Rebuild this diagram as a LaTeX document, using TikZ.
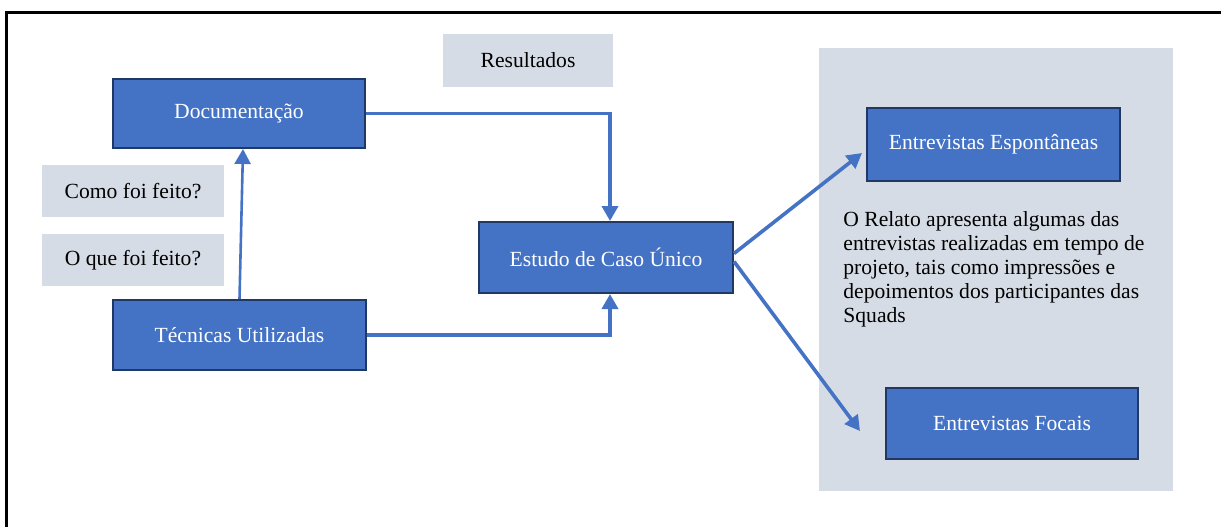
\documentclass[tikz,border=0pt]{standalone}
\usepackage{fontspec}
\setmainfont{Liberation Serif}
\usetikzlibrary{arrows.meta}

\definecolor{boxblue}{HTML}{4472C4}
\definecolor{boxedge}{HTML}{1F3864}
\definecolor{lightbox}{HTML}{D6DCE5}

\begin{document}
\begin{tikzpicture}[x=0.5pt, y=-0.5pt,
    every node/.style={font=\fontsize{10.8}{12}\selectfont, inner sep=0pt},
    bluebox/.style={draw=boxedge, line width=1pt, fill=boxblue, text=white},
    greybox/.style={fill=lightbox},
    link/.style={draw=boxblue, line width=1.8pt, -{Triangle[width=8pt,length=7.5pt]}}]

   \useasboundingbox (0,0) rectangle (1221,527);
   \draw[line width=1.5pt] (1221,12) -- (6,12) -- (6,527);

   \fill[lightbox] (819,48) rectangle (1173,491);

   \node[greybox, minimum width=85pt, minimum height=26.5pt] (res) at (528,60.5) {Resultados};
   \node[greybox, minimum width=91pt, minimum height=26pt] (como) at (133,191) {Como foi feito?};
   \node[greybox, minimum width=91pt, minimum height=26pt] (oque) at (133,260) {O que foi feito?};

   \node[bluebox, minimum width=126pt, minimum height=34.5pt] (doc) at (239,113.5) {Documentação};
   \node[bluebox, minimum width=126.5pt, minimum height=35pt] (tec) at (239.5,335) {Técnicas Utilizadas};
   \node[bluebox, minimum width=127pt, minimum height=35.5pt] (est) at (606,257.5) {Estudo de Caso Único};
   \node[bluebox, minimum width=126.5pt, minimum height=36.5pt] (esp) at (993.5,144.5) {Entrevistas Espontâneas};
   \node[bluebox, minimum width=126pt, minimum height=35.5pt] (foc) at (1012,423.5) {Entrevistas Focais};

   \node[anchor=north west, align=left] (relato) at (843,211)
     {O Relato apresenta algumas das\\
      entrevistas realizadas em tempo de\\
      projeto, tais como impressões e\\
      depoimentos dos participantes das\\
      Squads};

   \coordinate (espin) at (862,153);
   \coordinate (focin) at (860,431);

   \draw[link] (doc.east) -- ([xshift=2pt]est.north |- doc.east) -- ([xshift=2pt]est.north);
   \draw[link] (tec.east) -- ([xshift=2pt]est.south |- tec.east) -- ([xshift=2pt]est.south);
   \draw[link, line width=1.3pt] (tec.north) -- ([xshift=2pt]doc.south);
   \draw[link] ([yshift=2pt]est.east) -- (espin);
   \draw[link] ([yshift=-2pt]est.east) -- (focin);
  \end{tikzpicture}
\end{document}
